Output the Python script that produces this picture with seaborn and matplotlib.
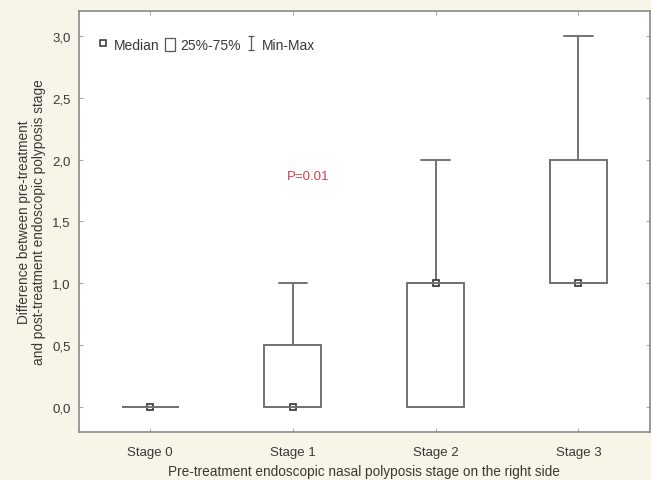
import numpy as np
import pandas as pd
import matplotlib
matplotlib.use('Agg')
import matplotlib.pyplot as plt
from matplotlib.lines import Line2D
from matplotlib.patches import Patch
from matplotlib.path import Path
import seaborn as sns

# resumo por estágio (min, Q1, mediana, Q3, max)
stages = ['Stage 0', 'Stage 1', 'Stage 2', 'Stage 3']
mins = [0.0, 0.0, 0.0, 1.0]
q1s = [0.0, 0.0, 0.0, 1.0]
medians = [0.0, 0.0, 1.0, 1.0]
q3s = [0.0, 0.5, 1.0, 2.0]
maxs = [0.0, 1.0, 2.0, 3.0]

y_ticks = [0.0, 0.5, 1.0, 1.5, 2.0, 2.5, 3.0]

# formato longo: cinco valores por estágio reproduzem exatamente os quartis
rows = []
for i, s in enumerate(stages):
    for v in [mins[i], q1s[i], medians[i], q3s[i], maxs[i]]:
        rows.append({'stage': s, 'diff': v})
df = pd.DataFrame(rows)

sns.set_style('ticks')
plt.rcParams['font.family'] = ['Liberation Sans', 'DejaVu Sans']

edge = '#727272'
bg = '#f7f5e8'
txt = '#383838'

fig = plt.figure(figsize=(6.51, 4.81), dpi=100, facecolor=bg)
ax = fig.add_axes([0.121, 0.100, 0.877, 0.875])
ax.set_facecolor('white')

sns.boxplot(data=df, x='stage', y='diff', order=stages, whis=(0, 100),
            width=0.4, color='white', linecolor=edge, linewidth=1.4,
            showfliers=False, capwidths=0.2, ax=ax)
sns.pointplot(data=df, x='stage', y='diff', order=stages, estimator='median',
              errorbar=None, linestyle='none', marker='s', color='#333333',
              markersize=4.5, markeredgewidth=1.2, markerfacecolor='white', ax=ax)

ax.set_xlim(-0.5, 3.5)
ax.set_ylim(-0.2, 3.2)
ax.set_yticks(y_ticks)
ax.set_yticklabels([f'{t:.1f}'.replace('.', ',') for t in y_ticks])
ax.tick_params(axis='both', direction='in', length=3, color='#aaaaaa',
               labelsize=9.5, labelcolor=txt, top=True, right=True, pad=6)
ax.tick_params(axis='x', pad=10)
for sp in ax.spines.values():
    sp.set_visible(True)
    sp.set_color('#8a8a8a')
    sp.set_linewidth(1.2)

ax.set_xlabel('Pre-treatment endoscopic nasal polyposis stage on the right side',
              fontsize=9.8, color=txt, labelpad=4.5)
ax.set_ylabel('Difference between pre-treatment\nand post-treatment endoscopic polyposis stage',
              fontsize=9.8, color=txt, labelpad=4, linespacing=1.1)

ax.text(1.11, 1.87, 'P=0.01', color='#d4404f', fontsize=9.5, ha='center', va='center')

# legenda
ibeam = Path([(-0.5, -1), (0.5, -1), (0, -1), (0, 1), (-0.5, 1), (0.5, 1)],
             [Path.MOVETO, Path.LINETO, Path.MOVETO, Path.LINETO, Path.MOVETO, Path.LINETO])
handles = [
    Line2D([], [], linestyle='none', marker='s', markersize=4, markerfacecolor='white',
           markeredgecolor='#333333', markeredgewidth=1.1),
    Patch(facecolor='white', edgecolor='#555555', linewidth=0.9),
    Line2D([], [], linestyle='none', marker=ibeam, markersize=10, markerfacecolor='none',
           markeredgecolor='#555555', markeredgewidth=0.9),
]
leg = ax.legend(handles, ['Median', '25%-75%', 'Min-Max'], loc='upper left',
                bbox_to_anchor=(0.025, 0.95), ncol=3, frameon=False, fontsize=10,
                handlelength=0.7, handleheight=1.1, handletextpad=0.4,
                columnspacing=0.4, borderaxespad=0)
for t in leg.get_texts():
    t.set_color(txt)

fig.savefig('out.png', dpi=100, facecolor=bg)
